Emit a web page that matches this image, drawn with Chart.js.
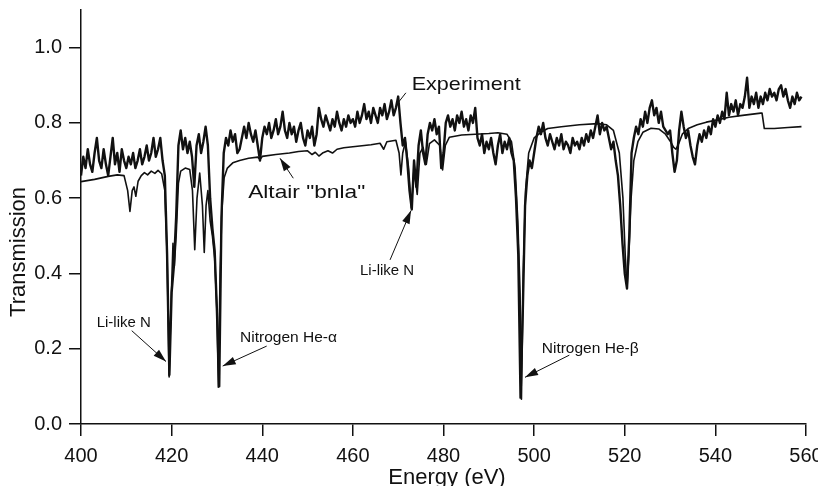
<!DOCTYPE html>
<html>
<head>
<meta charset="utf-8">
<script src="https://cdn.jsdelivr.net/npm/chart.js@4.4.1/dist/chart.umd.min.js"></script>
<style>
  html, body { margin: 0; padding: 0; background: #fff; }
  #wrap { width: 818px; height: 486px; }
</style>
</head>
<body>
<div id="wrap"><canvas id="spectrum" width="818" height="486"></canvas></div>
<script>
// ---- values ----
const xTicks = [400, 420, 440, 460, 480, 500, 520, 540, 560];
const yTicks = [0.0, 0.2, 0.4, 0.6, 0.8, 1.0];

// Experiment: transmission every 0.5 eV from 400 eV
const expStart = 400;
const expStep = 0.5;
const expT = [
  0.66, 0.71, 0.68, 0.73, 0.69, 0.67, 0.72, 0.76, 0.70, 0.68, 0.73, 0.69, 0.66, 0.71, 0.76, 0.69, 0.72, 0.67, 0.73, 0.70, // 400
  0.68, 0.71, 0.69, 0.72, 0.68, 0.70, 0.73, 0.69, 0.71, 0.74, 0.70, 0.72, 0.76, 0.71, 0.73, 0.76, 0.70, 0.66, 0.45, 0.13, // 410
  0.35, 0.42, 0.55, 0.74, 0.78, 0.73, 0.76, 0.72, 0.75, 0.71, 0.63, 0.74, 0.77, 0.72, 0.75, 0.79, 0.74, 0.60, 0.52, 0.46, // 420
  0.30, 0.10, 0.55, 0.72, 0.76, 0.74, 0.78, 0.75, 0.77, 0.72, 0.73, 0.76, 0.79, 0.76, 0.80, 0.77, 0.75, 0.78, 0.74, 0.70, // 430
  0.76, 0.79, 0.77, 0.80, 0.76, 0.78, 0.81, 0.77, 0.79, 0.83, 0.78, 0.76, 0.80, 0.77, 0.79, 0.75, 0.78, 0.80, 0.76, 0.74, // 440
  0.78, 0.76, 0.79, 0.74, 0.77, 0.84, 0.81, 0.79, 0.82, 0.80, 0.78, 0.81, 0.79, 0.83, 0.80, 0.78, 0.81, 0.79, 0.82, 0.80, // 450
  0.81, 0.79, 0.83, 0.80, 0.82, 0.85, 0.81, 0.83, 0.80, 0.84, 0.82, 0.80, 0.84, 0.82, 0.85, 0.81, 0.83, 0.86, 0.82, 0.84, // 460
  0.87, 0.80, 0.74, 0.76, 0.70, 0.62, 0.57, 0.70, 0.63, 0.74, 0.78, 0.72, 0.69, 0.77, 0.80, 0.78, 0.81, 0.77, 0.79, 0.68, // 470
  0.72, 0.80, 0.82, 0.79, 0.81, 0.78, 0.82, 0.80, 0.83, 0.79, 0.81, 0.78, 0.82, 0.80, 0.84, 0.76, 0.74, 0.77, 0.72, 0.75, // 480
  0.73, 0.76, 0.72, 0.69, 0.74, 0.77, 0.72, 0.75, 0.73, 0.76, 0.72, 0.70, 0.60, 0.45, 0.07, 0.30, 0.58, 0.66, 0.70, 0.68, // 490
  0.72, 0.76, 0.79, 0.77, 0.80, 0.76, 0.74, 0.77, 0.75, 0.73, 0.76, 0.74, 0.77, 0.73, 0.75, 0.74, 0.72, 0.76, 0.74, 0.75, // 500
  0.73, 0.76, 0.74, 0.77, 0.75, 0.78, 0.76, 0.79, 0.82, 0.77, 0.80, 0.78, 0.79, 0.76, 0.73, 0.75, 0.70, 0.66, 0.58, 0.48, // 510
  0.40, 0.36, 0.50, 0.72, 0.76, 0.79, 0.77, 0.81, 0.79, 0.83, 0.80, 0.84, 0.86, 0.82, 0.84, 0.80, 0.83, 0.79, 0.78, 0.77, // 520
  0.78, 0.72, 0.67, 0.70, 0.78, 0.83, 0.79, 0.76, 0.78, 0.74, 0.71, 0.69, 0.74, 0.77, 0.75, 0.78, 0.76, 0.79, 0.77, 0.81, // 530
  0.79, 0.82, 0.80, 0.83, 0.81, 0.88, 0.82, 0.85, 0.83, 0.86, 0.82, 0.85, 0.84, 0.87, 0.92, 0.84, 0.87, 0.85, 0.88, 0.84, // 540
  0.87, 0.85, 0.88, 0.86, 0.89, 0.87, 0.88, 0.86, 0.89, 0.90, 0.87, 0.89, 0.86, 0.84, 0.87, 0.85, 0.88, 0.86, 0.87        // 550
];

// Altair "bnla" model
const modelE = [
  400, 403, 406, 408, 409.5, 410.3, 410.8, 411.3, 411.7, 412.1, 412.6, 413.3, 414, 414.7, 415.5, 416.3, 417, 417.8,
  418.5, 419, 419.45, 419.9, 420.3, 420.6, 421, 421.5, 422, 423, 424, 424.6, 425.1, 425.6, 426.2, 426.8, 427.2,
  427.6, 428, 428.5, 429, 429.5, 430, 430.3, 430.7, 431.1, 431.6, 432.3, 433.5, 435, 437, 439, 439.5, 440, 443,
  446, 448, 450, 451, 451.7, 452.5, 453.3, 454.5, 455.5, 456.5, 458, 461, 464, 466, 466.8, 467.5, 469.5, 470.2,
  470.6, 471, 471.6, 472.3, 472.9, 473.5, 474.2, 474.8, 475.5, 476.2, 476.9, 478, 479.2, 479.8, 480.4, 481.3,
  484, 487, 490, 492, 494, 495, 495.8, 496.4, 496.9, 497.2, 497.6, 498.1, 498.8, 500, 501.5, 503, 506, 510, 514,
  516, 517.5, 518.8, 519.6, 520.1, 520.5, 520.9, 521.4, 522, 522.9, 524, 525.8, 527.5, 529, 530, 530.8, 531.3,
  531.9, 532.7, 534, 536, 538, 540.5, 543, 546, 550, 550.3, 550.8, 553, 556, 559
];
const modelT = [
  0.644, 0.650, 0.658, 0.662, 0.660, 0.620, 0.565, 0.620, 0.630, 0.605, 0.645, 0.660, 0.668, 0.662, 0.672, 0.666, 0.674, 0.665,
  0.620, 0.450, 0.125, 0.330, 0.480, 0.420, 0.500, 0.640, 0.672, 0.680, 0.676, 0.620, 0.463, 0.600, 0.667, 0.580, 0.456,
  0.580, 0.620, 0.540, 0.500, 0.440, 0.300, 0.098, 0.400, 0.570, 0.655, 0.680, 0.694, 0.700, 0.706, 0.709, 0.703, 0.711, 0.716,
  0.720, 0.724, 0.726, 0.716, 0.722, 0.712, 0.720, 0.726, 0.720, 0.730, 0.734, 0.738, 0.742, 0.746, 0.730, 0.750, 0.754, 0.720,
  0.662, 0.720, 0.750, 0.680, 0.574, 0.680, 0.610, 0.720, 0.735, 0.690, 0.745, 0.755, 0.740, 0.675, 0.740, 0.762,
  0.768, 0.770, 0.772, 0.774, 0.770, 0.750, 0.680, 0.540, 0.350, 0.066, 0.400, 0.620, 0.720, 0.760, 0.775, 0.785, 0.790, 0.795, 0.798,
  0.795, 0.780, 0.720, 0.600, 0.450, 0.360, 0.450, 0.600, 0.700, 0.750, 0.775, 0.786, 0.784, 0.770, 0.752, 0.735, 0.730,
  0.745, 0.770, 0.785, 0.795, 0.802, 0.808, 0.815, 0.820, 0.826, 0.826, 0.785, 0.785, 0.788, 0.790
];

// labels and arrows, placed in data units (energy, transmission)
const notes = [
  { text: 'Experiment', e: 472.98, t: 0.887, size: 17.7, stretch: 1.22 },
  { text: 'Altair "bnla"', e: 436.9, t: 0.600, size: 18.6, stretch: 1.22 },
  { text: 'Li-like N', e: 403.46, t: 0.258, size: 14, stretch: 1.07 },
  { text: 'Nitrogen He-α', e: 435.09, t: 0.219, size: 14.5, stretch: 1.07 },
  { text: 'Li-like N', e: 461.57, t: 0.396, size: 14, stretch: 1.07 },
  { text: 'Nitrogen He-β', e: 501.68, t: 0.189, size: 14.5, stretch: 1.07 }
];
const arrows = [
  { from: [471.7, 0.880], to: [470.0, 0.854], head: false },
  { from: [446.85, 0.653], to: [443.92, 0.706], head: true },
  { from: [411.19, 0.248], to: [418.76, 0.166], head: true },
  { from: [440.98, 0.207], to: [431.27, 0.154], head: true },
  { from: [468.2, 0.436], to: [472.83, 0.567], head: true },
  { from: [507.77, 0.183], to: [497.99, 0.124], head: true }
];

const ink = '#111';
const family = '"Liberation Sans", Arial, Helvetica, sans-serif';

// draws the labels, arrows and the two axis titles
const annotate = {
  id: 'annotate',
  afterDraw(chart) {
    const { ctx, scales: { x, y } } = chart;
    ctx.save();
    ctx.fillStyle = ink;
    ctx.strokeStyle = ink;

    notes.forEach(n => {
      ctx.save();
      ctx.font = `${n.size}px ${family}`;
      ctx.textBaseline = 'alphabetic';
      ctx.textAlign = 'left';
      ctx.translate(x.getPixelForValue(n.e), y.getPixelForValue(n.t));
      ctx.scale(n.stretch, 1);
      ctx.fillText(n.text, 0, 0);
      ctx.restore();
    });

    arrows.forEach(a => {
      const x0 = x.getPixelForValue(a.from[0]), y0 = y.getPixelForValue(a.from[1]);
      const x1 = x.getPixelForValue(a.to[0]), y1 = y.getPixelForValue(a.to[1]);
      ctx.lineWidth = 1;
      ctx.beginPath();
      ctx.moveTo(x0, y0);
      ctx.lineTo(x1, y1);
      ctx.stroke();
      if (a.head) {
        const ang = Math.atan2(y1 - y0, x1 - x0);
        const L = 13, W = 4;
        const bx = x1 - L * Math.cos(ang), by = y1 - L * Math.sin(ang);
        ctx.beginPath();
        ctx.moveTo(x1, y1);
        ctx.lineTo(bx + W * Math.sin(ang), by - W * Math.cos(ang));
        ctx.lineTo(bx - W * Math.sin(ang), by + W * Math.cos(ang));
        ctx.closePath();
        ctx.fill();
      }
    });

    // axis titles
    ctx.font = `22px ${family}`;
    ctx.textAlign = 'center';
    ctx.textBaseline = 'middle';
    ctx.save();
    ctx.translate(19, 252);
    ctx.rotate(-Math.PI / 2);
    ctx.fillText('Transmission', 0, 0);
    ctx.restore();
    ctx.textBaseline = 'alphabetic';
    ctx.fillText('Energy (eV)', 447, 484);
    ctx.restore();
  }
};

const tickFont = { family: family, size: 20 };

new Chart(document.getElementById('spectrum'), {
  type: 'line',
  data: {
    datasets: [
      {
        label: 'Experiment',
        data: expT.map((t, i) => ({ x: expStart + i * expStep, y: t })),
        borderColor: ink,
        borderWidth: 2.4,
        borderJoinStyle: 'round',
        pointRadius: 0,
        tension: 0
      },
      {
        label: 'Altair "bnla"',
        data: modelE.map((e, i) => ({ x: e, y: modelT[i] })),
        borderColor: ink,
        borderWidth: 1.6,
        borderJoinStyle: 'round',
        pointRadius: 0,
        tension: 0
      }
    ]
  },
  options: {
    responsive: false,
    animation: false,
    devicePixelRatio: 1,
    layout: { padding: { top: 10, right: 12, bottom: 0, left: 0 } },
    plugins: { legend: { display: false }, tooltip: { enabled: false } },
    scales: {
      x: {
        type: 'linear',
        min: 400,
        max: 560,
        afterFit: s => { s.height = 62; s.paddingLeft = 0; s.paddingRight = 0; },
        afterBuildTicks: s => { s.ticks = xTicks.map(v => ({ value: v })); },
        grid: { drawOnChartArea: false, drawTicks: true, tickLength: 12, color: ink, lineWidth: 1.5 },
        border: { display: true, color: ink, width: 1.5 },
        ticks: { color: ink, font: tickFont, padding: 8, maxRotation: 0, autoSkip: false },
        title: { display: false }
      },
      y: {
        min: 0,
        max: 1.1,
        afterFit: s => { s.width = 81; s.paddingTop = 0; s.paddingBottom = 0; },
        afterBuildTicks: s => { s.ticks = yTicks.map(v => ({ value: v })); },
        grid: { drawOnChartArea: false, drawTicks: true, tickLength: 12, color: ink, lineWidth: 1.5 },
        border: { display: true, color: ink, width: 1.5 },
        ticks: { color: ink, font: tickFont, padding: 7, callback: v => v.toFixed(1) },
        title: { display: false }
      }
    }
  },
  plugins: [annotate]
});
</script>
</body>
</html>
